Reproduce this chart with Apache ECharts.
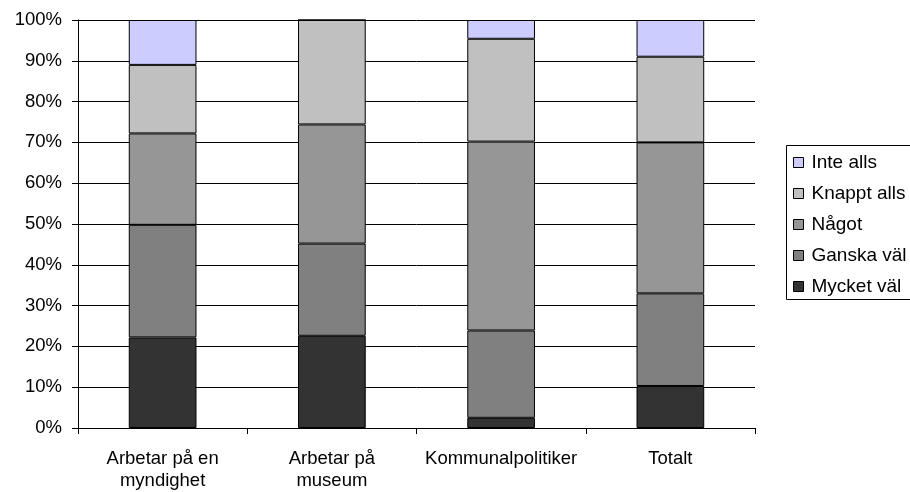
<!DOCTYPE html>
<html>
<head>
<meta charset="utf-8">
<script src="https://cdn.jsdelivr.net/npm/echarts@6/dist/echarts.min.js"></script>
<style>
html,body{margin:0;padding:0;background:#fff;}
#chart{width:910px;height:492px;}
</style>
</head>
<body>
<div id="chart"></div>
<script>
const categories = ['Arbetar på en\nmyndighet', 'Arbetar på\nmuseum', 'Kommunalpolitiker', 'Totalt'];
const mycketVal = [22.2, 22.6, 2.5, 10.3];
const ganskaVal = [27.6, 22.6, 21.4, 22.7];
const nagot = [22.4, 29.2, 46.3, 37.0];
const knapptAlls = [16.8, 25.6, 25.2, 21.0];
const inteAlls = [11.0, 0, 4.6, 9.0];
const yTicks = [0, 10, 20, 30, 40, 50, 60, 70, 80, 90, 100];

const FONT = 'Liberation Sans, Arial, sans-serif';
const FS = 18.5;
const seriesDefs = [
  { name: 'Mycket väl', data: mycketVal, color: '#333333' },
  { name: 'Ganska väl', data: ganskaVal, color: '#808080' },
  { name: 'Något', data: nagot, color: '#969696' },
  { name: 'Knappt alls', data: knapptAlls, color: '#c0c0c0' },
  { name: 'Inte alls', data: inteAlls, color: '#ccccff' }
];

const chart = echarts.init(document.getElementById('chart'), null, { renderer: 'canvas' });
chart.setOption({
  animation: false,
  backgroundColor: '#ffffff',
  textStyle: { fontFamily: FONT },
  grid: { left: 78, right: 155, top: 20, bottom: 62, containLabel: false },
  graphic: [{
    type: 'rect',
    shape: { x: 786.5, y: 145.5, width: 160, height: 154 },
    style: { fill: 'none', stroke: '#000', lineWidth: 1 },
    silent: true,
    z: 0
  }],
  legend: {
    orient: 'vertical',
    left: 786,
    top: 145,
    data: seriesDefs.map(s => s.name).reverse(),
    itemWidth: 10,
    itemHeight: 10,
    itemGap: 10,
    icon: 'rect',
    padding: [7, 0, 3, 7],
    textStyle: { fontFamily: FONT, fontSize: 19, lineHeight: 21, color: '#000', padding: [0, 0, 0, 3] },
    itemStyle: { borderColor: '#000', borderWidth: 1 }
  },
  xAxis: {
    type: 'category',
    data: categories,
    boundaryGap: true,
    axisLine: { lineStyle: { color: '#000', width: 1 } },
    axisTick: { show: true, length: 6, interval: 0, lineStyle: { color: '#000' } },
    axisLabel: { interval: 0, color: '#000', fontSize: FS, fontFamily: FONT, lineHeight: 22, margin: 20 },
    splitLine: { show: false }
  },
  yAxis: {
    type: 'value',
    min: yTicks[0],
    max: yTicks[yTicks.length - 1],
    interval: 10,
    axisLine: { show: true, lineStyle: { color: '#000', width: 1 } },
    axisTick: { show: true, length: 6, lineStyle: { color: '#000' } },
    axisLabel: { formatter: '{value}%', color: '#000', fontSize: FS, fontFamily: FONT, margin: 16 },
    splitLine: { show: true, lineStyle: { color: '#000', width: 1 } }
  },
  series: seriesDefs.map(s => ({
    name: s.name,
    type: 'bar',
    stack: 'total',
    barWidth: '40%',
    data: s.data,
    itemStyle: { color: s.color, borderColor: '#000', borderWidth: 1 },
    emphasis: { disabled: true }
  }))
});
</script>
</body>
</html>
